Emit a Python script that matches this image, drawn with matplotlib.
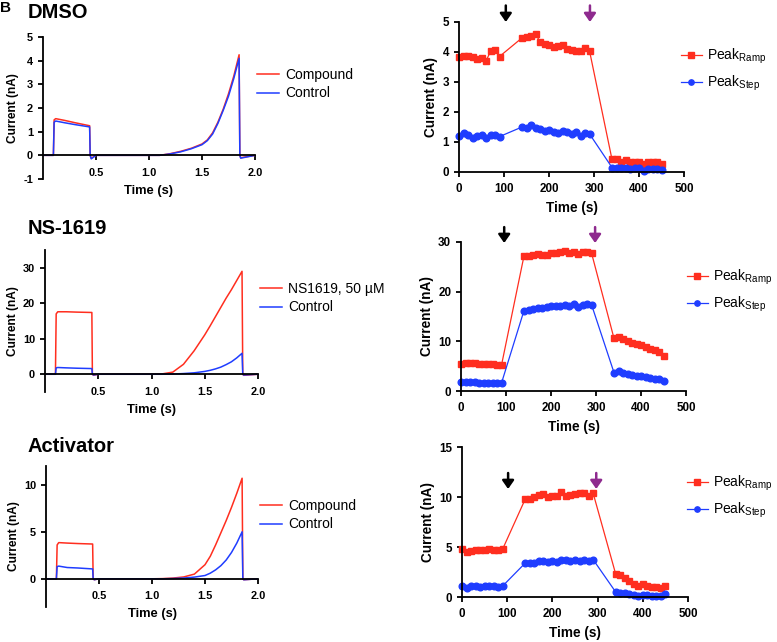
import matplotlib
matplotlib.use("Agg")
import matplotlib.pyplot as plt

plt.rcParams['font.family'] = ['Liberation Sans', 'DejaVu Sans']
plt.rcParams['mathtext.fontset'] = 'custom'
plt.rcParams['mathtext.rm'] = 'Liberation Sans'
plt.rcParams['axes.unicode_minus'] = False

RED = '#FF2E1F'
BLUE = '#1F3DFF'
PURPLE = '#8E2A8E'

# ---------------- Left panels: current traces ----------------
trace_t = [0.0, 0.098, 0.105, 0.12, 0.2, 0.3, 0.44, 0.445, 0.455, 0.5, 1.0, 1.1, 1.2, 1.3, 1.4,
           1.5, 1.55, 1.6, 1.65, 1.7, 1.75, 1.8, 1.85, 1.857, 1.865, 2.0]

dmso_compound = [0.0, 0.0, 1.5, 1.55, 1.48, 1.38, 1.25, 0.0, -0.12, 0.0, 0.0, 0.0, 0.07, 0.17, 0.3,
                 0.48, 0.65, 0.95, 1.4, 1.95, 2.6, 3.35, 4.25, 0.0, -0.1, 0.0]
dmso_control = [0.0, 0.0, 1.4, 1.45, 1.38, 1.3, 1.2, 0.0, -0.15, 0.0, 0.0, 0.0, 0.06, 0.15, 0.28,
                0.45, 0.62, 0.9, 1.35, 1.9, 2.5, 3.25, 4.1, 0.0, -0.12, 0.0]

ns_compound = [0.0, 0.0, 17.0, 17.6, 17.6, 17.5, 17.4, 0.0, -0.3, 0.0, 0.0, 0.1, 0.6, 2.8, 6.6,
               11.1, 13.6, 16.2, 18.8, 21.4, 23.8, 26.4, 29.0, 0.0, -0.3, 0.0]
ns_control = [0.0, 0.0, 1.8, 1.9, 1.8, 1.7, 1.6, 0.0, -0.2, 0.0, 0.0, 0.0, 0.05, 0.2, 0.4,
              0.8, 1.1, 1.5, 2.0, 2.7, 3.5, 4.6, 5.9, 0.0, -0.2, 0.0]

act_compound = [0.0, 0.0, 3.6, 3.85, 3.8, 3.75, 3.7, 0.0, -0.1, 0.0, 0.0, 0.02, 0.08, 0.2, 0.5,
                1.5, 2.4, 3.6, 4.9, 6.2, 7.6, 9.1, 10.7, 0.0, -0.1, 0.0]
act_control = [0.0, 0.0, 1.3, 1.35, 1.2, 1.15, 1.05, 0.0, -0.1, 0.0, 0.0, 0.0, 0.03, 0.08, 0.18,
               0.35, 0.6, 0.95, 1.4, 2.0, 2.8, 3.8, 5.0, 0.0, -0.1, 0.0]

# ---------------- Right panels: peak currents over time ----------------
time_pts = [0, 10, 20, 30, 40, 50, 60, 70, 80, 90,
            140, 150, 160, 170, 180, 190, 200, 210, 220, 230, 240, 250, 260, 270, 280, 290,
            340, 350, 360, 370, 380, 390, 400, 410, 420, 430, 440, 450]

dmso_ramp = [3.85, 3.88, 3.88, 3.85, 3.78, 3.8, 3.7, 4.02, 4.07, 3.85,
             4.47, 4.5, 4.52, 4.6, 4.35, 4.28, 4.22, 4.17, 4.2, 4.25, 4.1, 4.08, 4.05, 4.05, 4.12, 4.04,
             0.42, 0.45, 0.35, 0.4, 0.35, 0.35, 0.33, 0.28, 0.35, 0.32, 0.35, 0.28]
dmso_step = [1.2, 1.3, 1.22, 1.15, 1.2, 1.22, 1.15, 1.25, 1.25, 1.18,
             1.5, 1.48, 1.57, 1.47, 1.42, 1.38, 1.4, 1.35, 1.3, 1.38, 1.35, 1.27, 1.32, 1.2, 1.3, 1.27,
             0.15, 0.12, 0.15, 0.12, 0.1, 0.15, 0.12, 0.05, 0.1, 0.1, 0.1, 0.07]

ns_ramp = [5.5, 5.6, 5.6, 5.6, 5.5, 5.4, 5.4, 5.5, 5.3, 5.2,
           27.2, 27.1, 27.3, 27.5, 27.4, 27.4, 27.8, 27.8, 27.9, 28.1, 27.8, 28.0, 27.6, 27.9, 28.0, 27.8,
           10.6, 10.8, 10.4, 10.0, 9.7, 9.4, 9.2, 8.9, 8.5, 8.2, 7.8, 7.1]
ns_step = [1.8, 1.8, 1.8, 1.8, 1.6, 1.6, 1.6, 1.6, 1.6, 1.6,
           16.2, 16.3, 16.6, 16.7, 16.7, 16.9, 17.1, 17.1, 17.2, 17.3, 17.2, 17.5, 17.0, 17.3, 17.6, 17.4,
           3.7, 4.0, 3.7, 3.5, 3.3, 3.0, 3.1, 2.9, 2.7, 2.5, 2.4, 2.1]

act_ramp = [4.8, 4.5, 4.6, 4.7, 4.7, 4.75, 4.85, 4.75, 4.75, 4.8,
            9.8, 9.8, 10.0, 10.2, 10.3, 10.0, 10.1, 10.1, 10.5, 10.1, 10.2, 10.3, 10.4, 10.4, 10.1, 10.4,
            2.3, 2.2, 1.9, 1.6, 1.3, 1.1, 1.3, 1.1, 1.0, 1.0, 0.9, 1.1]
act_step = [1.1, 0.9, 1.1, 1.15, 1.05, 1.1, 1.15, 1.1, 1.05, 1.1,
            3.4, 3.4, 3.4, 3.6, 3.6, 3.5, 3.6, 3.55, 3.7, 3.7, 3.6, 3.7, 3.65, 3.7, 3.6, 3.75,
            0.5, 0.45, 0.4, 0.35, 0.2, 0.1, 0.25, 0.2, 0.15, 0.15, 0.15, 0.3]

titles = ['DMSO', 'NS-1619', 'Activator']
compound_labels = ['Compound', 'NS1619, 50 µM', 'Compound']
arrow_black_x = [104, 96, 102]
arrow_purple_x = [291, 298, 297]

fig = plt.figure(figsize=(7.77, 6.42), dpi=100)
W, H = 777.0, 642.0


def add_ax(x0, x1, ytop, ybot):
    return fig.add_axes([x0 / W, 1 - ybot / H, (x1 - x0) / W, (ybot - ytop) / H])


def style(ax, lsize, xpad):
    for s in ['top', 'right']:
        ax.spines[s].set_visible(False)
    for s in ['left', 'bottom']:
        ax.spines[s].set_linewidth(1.3)
    ax.tick_params(width=1.3, length=3.6, labelsize=lsize, pad=3.5)
    ax.tick_params(axis='x', pad=xpad)
    for lab in ax.get_xticklabels() + ax.get_yticklabels():
        lab.set_fontweight('bold')


left_specs = [
    (dmso_compound, dmso_control, (43, 255, 37, 179), (-1, 5), [-1, 0, 1, 2, 3, 4, 5], (257, 84)),
    (ns_compound, ns_control, (45, 258, 250, 392), (-5, 35), [0, 10, 20, 30], (260, 298)),
    (act_compound, act_control, (46, 258, 466, 607), (-3, 12), [0, 5, 10], (260, 515)),
]
title_y = [13, 229, 446]

for i, (comp, ctrl, box, ylim, yt, leg) in enumerate(left_specs):
    ax = add_ax(*box)
    ax.plot(trace_t, comp, color=RED, lw=1.1, label=compound_labels[i])
    ax.plot(trace_t, ctrl, color=BLUE, lw=1.1, label='Control')
    ax.set_xlim(0, 2.0)
    ax.set_ylim(*ylim)
    ax.set_xticks([0.5, 1.0, 1.5, 2.0])
    ax.set_xticklabels(['0.5', '1.0', '1.5', '2.0'])
    ax.set_yticks(yt)
    ax.spines['bottom'].set_position(('data', 0))
    style(ax, 7.9, 5.5)
    ax.set_xlabel('Time (s)', fontsize=9.3, fontweight='bold', labelpad=5)
    ax.set_ylabel('Current (nA)', fontsize=8.6, fontweight='bold', labelpad=3)
    ax.legend(loc='center left', bbox_to_anchor=(leg[0] / W, 1 - leg[1] / H),
              bbox_transform=fig.transFigure, frameon=False, fontsize=10,
              handlelength=1.6, handletextpad=0.4, labelspacing=0.35, borderpad=0, borderaxespad=0)
    fig.text(28 / W, 1 - title_y[i] / H, titles[i], fontsize=14.5, fontweight='bold',
             ha='left', va='center')

fig.text(0 / W, 1 - 8 / H, 'B', fontsize=11, fontweight='black', ha='left', va='center')

right_specs = [
    (dmso_ramp, dmso_step, (459, 684, 22, 172), (0, 5), [0, 1, 2, 3, 4, 5], (681, 70), (5.55, 5.0)),
    (ns_ramp, ns_step, (461, 686, 242, 391), (0, 30), [0, 10, 20, 30], (687, 291), (33.0, 29.8)),
    (act_ramp, act_step, (462, 688, 447, 597), (0, 15), [0, 5, 10, 15], (687, 497), (12.4, 10.8)),
]

for i, (ramp, step, box, ylim, yt, leg, arr) in enumerate(right_specs):
    ax = add_ax(*box)
    ax.plot(time_pts, ramp, color=RED, lw=0.9, marker='s', ms=4.6, mec=RED, mfc=RED,
            label=r'Peak$_{\mathregular{Ramp}}$', clip_on=False)
    ax.plot(time_pts, step, color=BLUE, lw=0.9, marker='o', ms=4.8, mec=BLUE, mfc=BLUE,
            label=r'Peak$_{\mathregular{Step}}$', clip_on=False)
    ax.set_xlim(0, 500)
    ax.set_ylim(*ylim)
    ax.set_xticks([0, 100, 200, 300, 400, 500])
    ax.set_yticks(yt)
    style(ax, 8.4, 4.0)
    ax.set_xlabel('Time (s)', fontsize=9.8, fontweight='bold', labelpad=4.5)
    ax.set_ylabel('Current (nA)', fontsize=9.8, fontweight='bold', labelpad=3)
    ax.legend(loc='center left', bbox_to_anchor=(leg[0] / W, 1 - leg[1] / H),
              bbox_transform=fig.transFigure, frameon=False, fontsize=10,
              handlelength=1.5, handletextpad=0.4, labelspacing=0.6, borderpad=0, borderaxespad=0,
              markerscale=0.8)
    for xa, col in [(arrow_black_x[i], 'black'), (arrow_purple_x[i], PURPLE)]:
        ax.annotate('', xy=(xa, arr[1]), xytext=(xa, arr[0]), annotation_clip=False,
                    arrowprops=dict(arrowstyle='-|>,head_width=0.35,head_length=0.5',
                                    color=col, lw=1.8, shrinkA=0, shrinkB=0))

fig.savefig('out.png', dpi=100)
